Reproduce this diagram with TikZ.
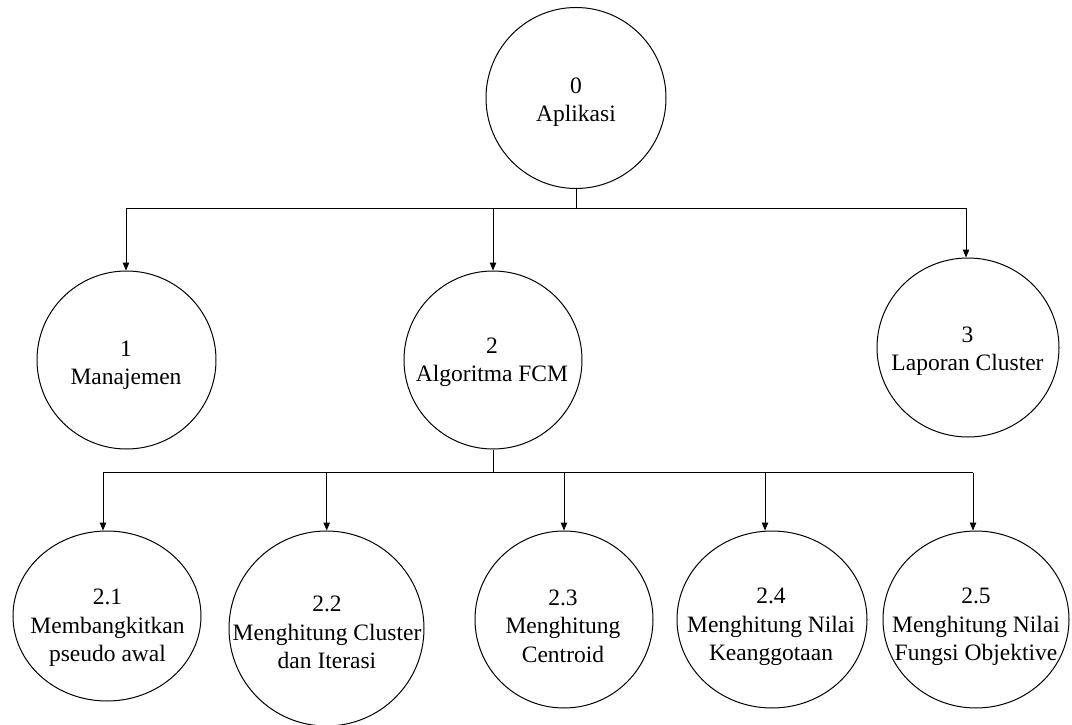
\documentclass[tikz,border=0pt]{standalone}
\usepackage{fontspec}
\setmainfont{Liberation Serif}
\usetikzlibrary{shapes.geometric,arrows.meta}
\tikzset{
  proc/.style={draw=black, ellipse, inner sep=0pt, line width=1pt},
  lbl/.style={align=center, inner sep=0pt, font=\fontsize{23.5}{28.5}\selectfont},
  wire/.style={draw=black, line width=1pt},
  arr/.style={wire, -{Triangle[length=8pt,width=6.5pt]}}
}
\begin{document}
\begin{tikzpicture}[x=1pt,y=-1pt]
\useasboundingbox (0,0) rectangle (1072,725);
% process circles
\node[proc, minimum width=180pt, minimum height=181pt] (n0) at (576,98) {};
\node[proc, minimum width=179pt, minimum height=178pt] (n1) at (126.5,360) {};
\node[proc, minimum width=178pt, minimum height=178pt] (n2) at (493,360) {};
\node[proc, minimum width=182pt, minimum height=179pt] (n3) at (968,347.5) {};
\node[proc, minimum width=188pt, minimum height=170pt] (n21) at (107,616) {};
\node[proc, minimum width=195pt, minimum height=195pt] (n22) at (326.5,628.5) {};
\node[proc, minimum width=178pt, minimum height=177pt] (n23) at (564,619.5) {};
\node[proc, minimum width=190pt, minimum height=177pt] (n24) at (772,619.5) {};
\node[proc, minimum width=186pt, minimum height=177pt] (n25) at (976,619.5) {};
% labels
\node[lbl] (t0) at (576,102) {0\\Aplikasi};
\node[lbl] (t1) at (126,365) {1\\Manajemen};
\node[lbl] (t2) at (492,362.5) {2\\Algoritma FCM};
\node[lbl] (t3) at (967.5,351) {3\\Laporan Cluster};
\node[lbl] (t21) at (107.5,628) {2.1\\Membangkitkan\\pseudo awal};
\node[lbl] (t22) at (327,632.5) {2.2\\Menghitung Cluster\\dan Iterasi};
\node[lbl] (t23) at (563,626) {2.3\\Menghitung\\Centroid};
\node[lbl] (t24) at (771,627) {2.4\\Menghitung Nilai\\Keanggotaan};
\node[lbl] (t25) at (976,627) {2.5\\Menghitung Nilai\\Fungsi Objektive};
% first level connectors
\coordinate (b0) at (576,208);
\coordinate (b1L) at (126,208);
\coordinate (b1M) at (493,208);
\coordinate (b1R) at (966,208);
\draw[wire] (n0.south) -- (b0);
\draw[wire] (b1L) -- (b1R);
\draw[arr] (b1L) -- (b1L |- n1.north);
\draw[arr] (b1M) -- (n2.north);
\draw[arr] (b1R) -- (b1R |- n3.north);
% second level connectors
\coordinate (b2) at (493,472.5);
\coordinate (c21) at (103,472.5);
\coordinate (c22) at (326.7,472.5);
\coordinate (c23) at (564,472.5);
\coordinate (c24) at (765,472.5);
\coordinate (c25) at (973,472.5);
\draw[wire] (n2.south) -- (b2);
\draw[wire] (c21) -- (c25);
\draw[arr] (c21) -- (c21 |- n21.north);
\draw[arr] (c22) -- (c22 |- n22.north);
\draw[arr] (c23) -- (n23.north);
\draw[arr] (c24) -- (c24 |- n24.north);
\draw[arr] (c25) -- (c25 |- n25.north);
\end{tikzpicture}
\end{document}
